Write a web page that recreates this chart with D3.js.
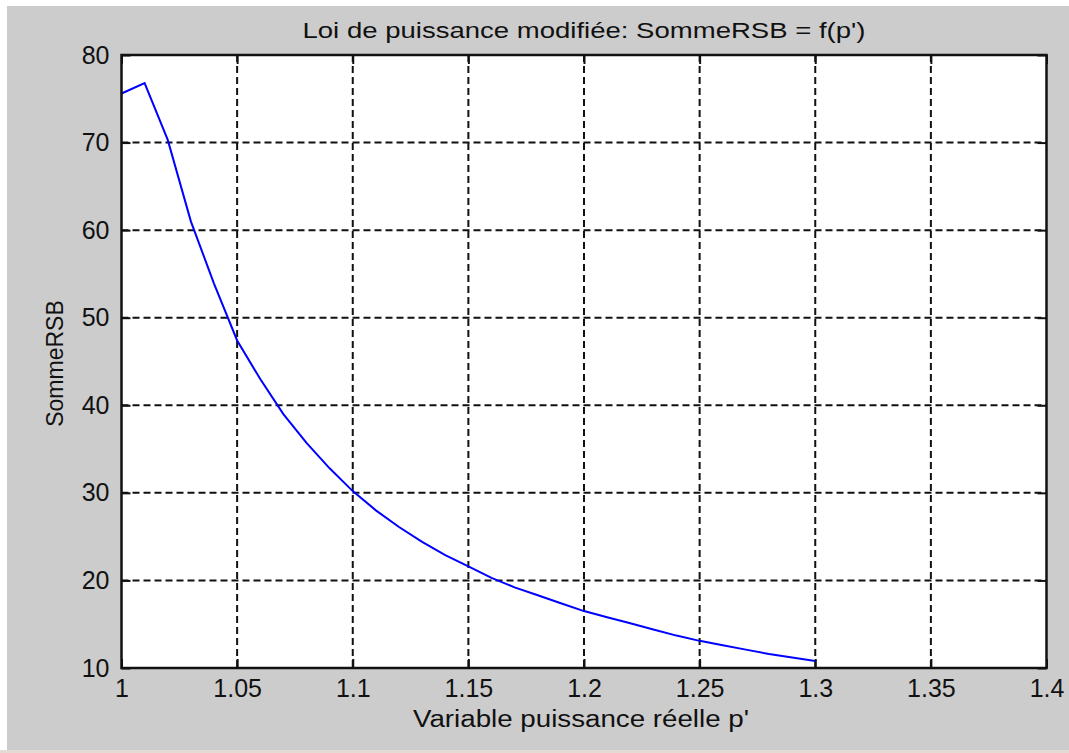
<!DOCTYPE html>
<html>
<head>
<meta charset="utf-8">
<script src="https://cdn.jsdelivr.net/npm/d3@7"></script>
<style>
  body { margin: 0; background: #ffffff; }
  svg text { font-family: "Liberation Sans", Arial, sans-serif; fill: #111; }
</style>
</head>
<body>
<script>
// Size of the figure
let figWidth = 1069;
let figHeight = 753;

// Data (p' step 0.01)
let pValues = [1.00, 1.01, 1.02, 1.03, 1.04, 1.05, 1.06, 1.07, 1.08, 1.09, 1.10,
               1.11, 1.12, 1.13, 1.14, 1.15, 1.16, 1.17, 1.18, 1.19, 1.20,
               1.21, 1.22, 1.23, 1.24, 1.25, 1.26, 1.27, 1.28, 1.29, 1.30];
let sommeRSB = [75.6, 76.8, 70.3, 61.0, 53.9, 47.4, 43.0, 39.0, 35.7, 32.8, 30.2,
                28.0, 26.1, 24.4, 22.9, 21.6, 20.3, 19.2, 18.3, 17.4, 16.5,
                15.8, 15.1, 14.4, 13.7, 13.1, 12.6, 12.1, 11.6, 11.2, 10.8];
let xTicks = [1, 1.05, 1.1, 1.15, 1.2, 1.25, 1.3, 1.35, 1.4];
let yTicks = [10, 20, 30, 40, 50, 60, 70, 80];

// Plot box
let boxLeft = 121.5, boxRight = 1046.5, boxTop = 55, boxBottom = 668;

let x = d3.scaleLinear().domain([1, 1.4]).range([boxLeft, boxRight]);
let y = d3.scaleLinear().domain([10, 80]).range([boxBottom, boxTop]);

let svg = d3.select('body').append('svg')
  .attr('width', figWidth)
  .attr('height', figHeight);

// MATLAB grey figure background, with the thin white/beige edges of the screenshot
svg.append('rect').attr('width', figWidth).attr('height', figHeight).attr('fill', '#ffffff');
svg.append('rect').attr('x', 7).attr('y', 6).attr('width', figWidth - 7).attr('height', figHeight - 6)
  .attr('fill', '#cccccc');
svg.append('rect').attr('x', 0).attr('y', 750).attr('width', figWidth).attr('height', 3)
  .attr('fill', '#e4dcd4');

// white axes area
svg.append('rect')
  .attr('x', boxLeft).attr('y', boxTop)
  .attr('width', boxRight - boxLeft).attr('height', boxBottom - boxTop)
  .attr('fill', '#ffffff');

// grid lines
let grid = svg.append('g').attr('stroke', '#111').attr('stroke-width', 2)
  .attr('stroke-dasharray', '7,4');
grid.selectAll('line.gx').data(xTicks.slice(1, -1)).enter().append('line')
  .attr('x1', d => x(d)).attr('x2', d => x(d))
  .attr('y1', boxTop).attr('y2', boxBottom);
grid.selectAll('line.gy').data(yTicks.slice(1, -1)).enter().append('line')
  .attr('x1', boxLeft).attr('x2', boxRight)
  .attr('y1', d => y(d)).attr('y2', d => y(d));

// the curve
let line = d3.line()
  .x((d, i) => x(pValues[i]))
  .y(d => y(d));
svg.append('path')
  .datum(sommeRSB)
  .attr('d', line)
  .attr('fill', 'none')
  .attr('stroke', '#0000ff')
  .attr('stroke-width', 2);

// axes (ticks inside, like matlab)
let fmt = d => String(d);
let xAxis = svg.append('g').attr('transform', `translate(0,${boxBottom})`)
  .call(d3.axisBottom(x).tickValues(xTicks).tickFormat(fmt).tickSize(-9).tickPadding(11));
let xAxisTop = svg.append('g').attr('transform', `translate(0,${boxTop})`)
  .call(d3.axisTop(x).tickValues(xTicks).tickFormat('').tickSize(-9));
let yAxis = svg.append('g').attr('transform', `translate(${boxLeft},0)`)
  .call(d3.axisLeft(y).tickValues(yTicks).tickFormat(fmt).tickSize(-9).tickPadding(12));
let yAxisRight = svg.append('g').attr('transform', `translate(${boxRight},0)`)
  .call(d3.axisRight(y).tickValues(yTicks).tickFormat('').tickSize(-9));

[xAxis, xAxisTop, yAxis, yAxisRight].forEach(g => {
  g.select('.domain').remove();
  g.selectAll('.tick line').attr('stroke', '#111').attr('stroke-width', 2);
  g.selectAll('.tick text').attr('font-size', 25).attr('fill', '#111')
    .attr('font-family', '"Liberation Sans", Arial, sans-serif');
});

// axes box
svg.append('rect')
  .attr('x', boxLeft).attr('y', boxTop)
  .attr('width', boxRight - boxLeft).attr('height', boxBottom - boxTop)
  .attr('fill', 'none').attr('stroke', '#111').attr('stroke-width', 2.5);

// title and labels (matlab's screen font is wider, so stretch them)
svg.append('text')
  .attr('x', (boxLeft + boxRight) / 2 - 281.5).attr('y', 37.5)
  .attr('font-size', 22)
  .attr('textLength', 563).attr('lengthAdjust', 'spacingAndGlyphs')
  .text("Loi de puissance modifiée: SommeRSB = f(p')");

svg.append('text')
  .attr('x', 413).attr('y', 727)
  .attr('font-size', 23)
  .attr('textLength', 336).attr('lengthAdjust', 'spacingAndGlyphs')
  .text("Variable puissance réelle p'");

svg.append('text')
  .attr('transform', `translate(63,${(boxTop + boxBottom) / 2 + 2}) rotate(-90)`)
  .attr('text-anchor', 'middle').attr('font-size', 23)
  .text('SommeRSB');
</script>
</body>
</html>
